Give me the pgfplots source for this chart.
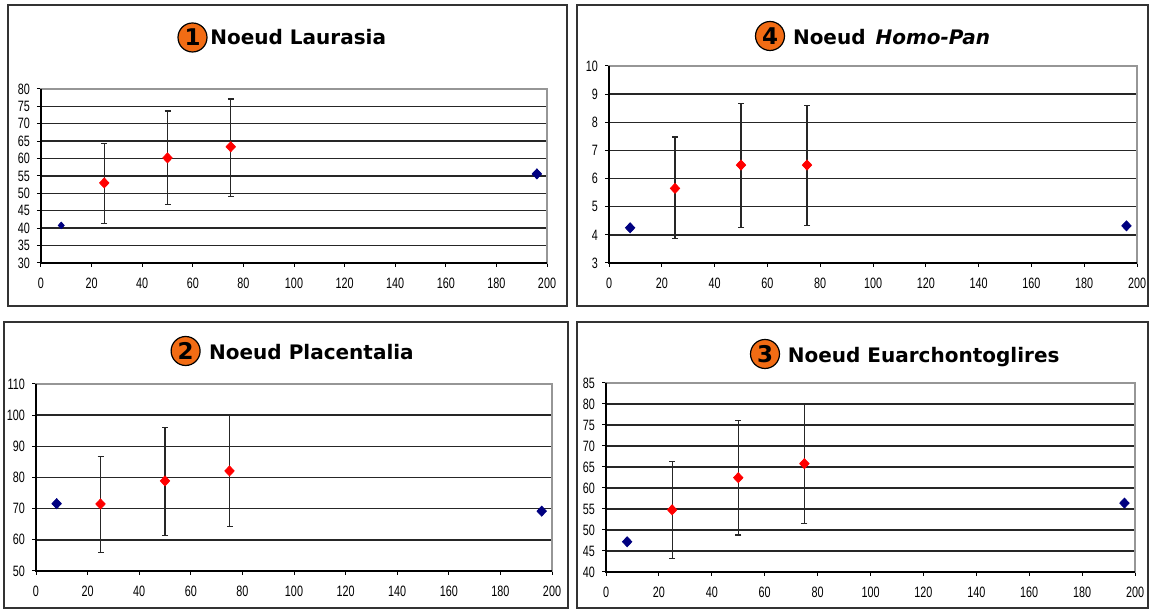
\documentclass[border=0pt]{standalone}
\usepackage{fontspec}
\setmainfont{DejaVu Sans}
\newfontfamily\tickfont[FakeStretch=0.72]{Liberation Sans}
\newfontfamily\titlefont{DejaVu Sans}
\usepackage{pgfplots}
\pgfplotsset{compat=1.18}
\definecolor{navyb}{RGB}{0,0,128}
\definecolor{circorange}{RGB}{242,108,20}
\definecolor{gridgray}{RGB}{150,150,150}
\pgfplotsset{
  panel/.style={
    scale only axis, anchor=south west,
    xmin=0, xmax=200, xtick={0,20,...,200},
    axis line style={gridgray, line width=0.8pt},
    ymajorgrids, grid style={black!85, line width=0.7pt},
    tick align=outside, xtick pos=bottom, ytick pos=left,
    major tick length=2pt, tick style={black, line width=0.5pt},
    ticklabel style={font=\tickfont\fontsize{7.5}{7.5}\selectfont},
    xticklabel style={yshift=-2pt},
    /pgf/number format/assume math mode=true,
    clip=false,
    after end axis/.code={\draw[black, line width=0.8pt] (rel axis cs:0,1) -- (rel axis cs:0,0) -- (rel axis cs:1,0);},
  },
  redpts/.style={only marks, mark=diamond*, mark size=2.5pt,
    mark options={fill=red, draw=red, xscale=1.25},
    error bars/.cd, y dir=both, y explicit,
    error bar style={black!85, line width=0.6pt},
    error mark options={black!85, mark size=1.5pt, line width=0.6pt, rotate=90}},
  bluepts/.style={only marks, mark=diamond*, mark size=2.5pt,
    mark options={fill=navyb, draw=navyb, xscale=1.25}},
}
\newcommand{\tfont}{\titlefont\bfseries\fontsize{10}{10}\selectfont}
\newcommand{\circnum}[2]{\node[circle, fill=circorange, draw=black, line width=0.6pt, minimum size=14.5pt, inner sep=0pt, font=\titlefont\bfseries\fontsize{11.5}{11.5}\selectfont] at (#1) {#2};}
\begin{document}
\begin{tikzpicture}
\path[use as bounding box] (0,0) rectangle (575pt,306.5pt);
\fill[white] (0,0) rectangle (575pt,306.5pt);
% frames
\draw[black!80, line width=0.6pt] (4pt,153.5pt) rectangle (283.5pt,304pt);
\draw[black!80, line width=0.6pt] (288.5pt,153.5pt) rectangle (574pt,304pt);
\draw[black!80, line width=0.6pt] (2pt,2.5pt) rectangle (284pt,145.5pt);
\draw[black!80, line width=0.6pt] (288.5pt,2.5pt) rectangle (574pt,145.5pt);

% Panel 1 Laurasia
\begin{axis}[panel, at={(20.5pt,175pt)}, width=253pt, height=87pt,
  ymin=30, ymax=80, ytick={30,35,...,80}]
\addplot[bluepts] coordinates {(196,55.6)};
\addplot[bluepts, mark size=1.6pt] coordinates {(8,40.8)};
\addplot[redpts] coordinates {
  (25,53.0) += (0,11.3) -= (0,11.7)
  (50,60.2) += (0,13.5) -= (0,13.4)
  (75,63.4) += (0,13.7) -= (0,14.2)
};
\end{axis}
\circnum{96.25pt,287.75pt}{1}
\node[anchor=base west, font=\tfont, inner sep=0pt] at (105pt,284pt) {Noeud Laurasia};

% Panel 4 Homo-Pan
\begin{axis}[panel, at={(304.5pt,175pt)}, width=264pt, height=98.5pt,
  ymin=3, ymax=10, ytick={3,4,...,10}]
\addplot[bluepts] coordinates {(8,4.25) (196,4.32)};
\addplot[redpts] coordinates {
  (25,5.65) += (0,1.83) -= (0,1.77)
  (50,6.48) += (0,2.20) -= (0,2.21)
  (75,6.48) += (0,2.12) -= (0,2.14)
};
\end{axis}
\circnum{385pt,288.5pt}{4}
\node[anchor=base west, font=\tfont, inner sep=0pt] at (396.3pt,284.3pt) {Noeud\hspace{0.5em}\textit{Homo-Pan}};

% Panel 2 Placentalia
\begin{axis}[panel, at={(18pt,21pt)}, width=258pt, height=93.5pt,
  ymin=50, ymax=110, ytick={50,60,...,110}]
\addplot[bluepts] coordinates {(8,71.6) (196,69.2)};
\addplot[redpts] coordinates {
  (25,71.5) += (0,15.2) -= (0,15.6)
  (50,78.9) += (0,17.2) -= (0,17.5)
  (75,82.1) += (0,18.0) -= (0,17.7)
};
\end{axis}
\circnum{92.8pt,131pt}{2}
\node[anchor=base west, font=\tfont, inner sep=0pt] at (104.4pt,126.5pt) {Noeud Placentalia};

% Panel 3 Euarchontoglires
\begin{axis}[panel, at={(303pt,20.5pt)}, width=264.5pt, height=94.5pt,
  ymin=40, ymax=85, ytick={40,45,...,85}]
\addplot[bluepts] coordinates {(8,47.2) (196,56.4)};
\addplot[redpts] coordinates {
  (25,54.8) += (0,11.6) -= (0,11.5)
  (50,62.45) += (0,13.65) -= (0,13.65)
  (75,65.8) += (0,14.3) -= (0,14.3)
};
\end{axis}
\circnum{382.5pt,129.5pt}{3}
\node[anchor=base west, font=\tfont, inner sep=0pt] at (393.75pt,125.35pt) {Noeud Euarchontoglires};
\end{tikzpicture}
\end{document}
